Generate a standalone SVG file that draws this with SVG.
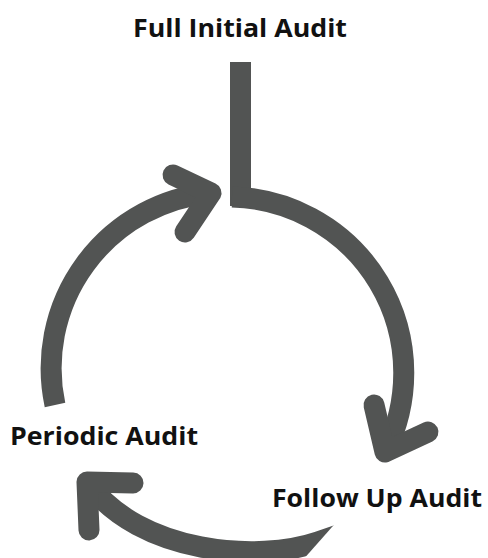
<svg xmlns="http://www.w3.org/2000/svg" width="488" height="558" viewBox="0 0 488 558">
  <defs>
    <style>
      .stroke { fill: none; stroke: #525453; stroke-width: 21; }
      .arm { fill: none; stroke: #525453; stroke-width: 21; stroke-linecap: round; stroke-linejoin: round; }
      .label { font-family: "Open Sans", "Liberation Sans", sans-serif; font-weight: 700; font-size: 25px; fill: #111; }
    </style>
    <clipPath id="bottomCut">
      <polygon points="40,440 409,440 294,570 40,570"/>
    </clipPath>
  </defs>
  <rect width="488" height="558" fill="#ffffff"/>

  <g id="connectors">
    <line class="stroke" x1="240.5" y1="62" x2="240.5" y2="206" stroke-width="18"/>
    <path class="stroke" d="M 232 197 A 176 176 0 0 1 385 452"/>
    <path class="stroke" d="M 55 405 A 176 176 0 0 1 211 193"/>
    <path class="stroke" clip-path="url(#bottomCut)" d="M 87 482 C 140 555, 260 562, 318 542 L 350 531"/>
    <polyline class="arm" points="173,175 211,193 185,232"/>
    <polyline class="arm" points="374,405 385,452 428,432"/>
    <polyline class="arm" points="133,483 87,482 89,530"/>
  </g>

  <g id="full-initial-audit">
    <text class="label" x="133" y="37" textLength="214" lengthAdjust="spacingAndGlyphs">Full Initial Audit</text>
  </g>
  <g id="periodic-audit">
    <text class="label" x="10" y="445" textLength="188" lengthAdjust="spacingAndGlyphs">Periodic Audit</text>
  </g>
  <g id="follow-up-audit">
    <text class="label" x="272" y="507" textLength="210" lengthAdjust="spacingAndGlyphs">Follow Up Audit</text>
  </g>
</svg>
